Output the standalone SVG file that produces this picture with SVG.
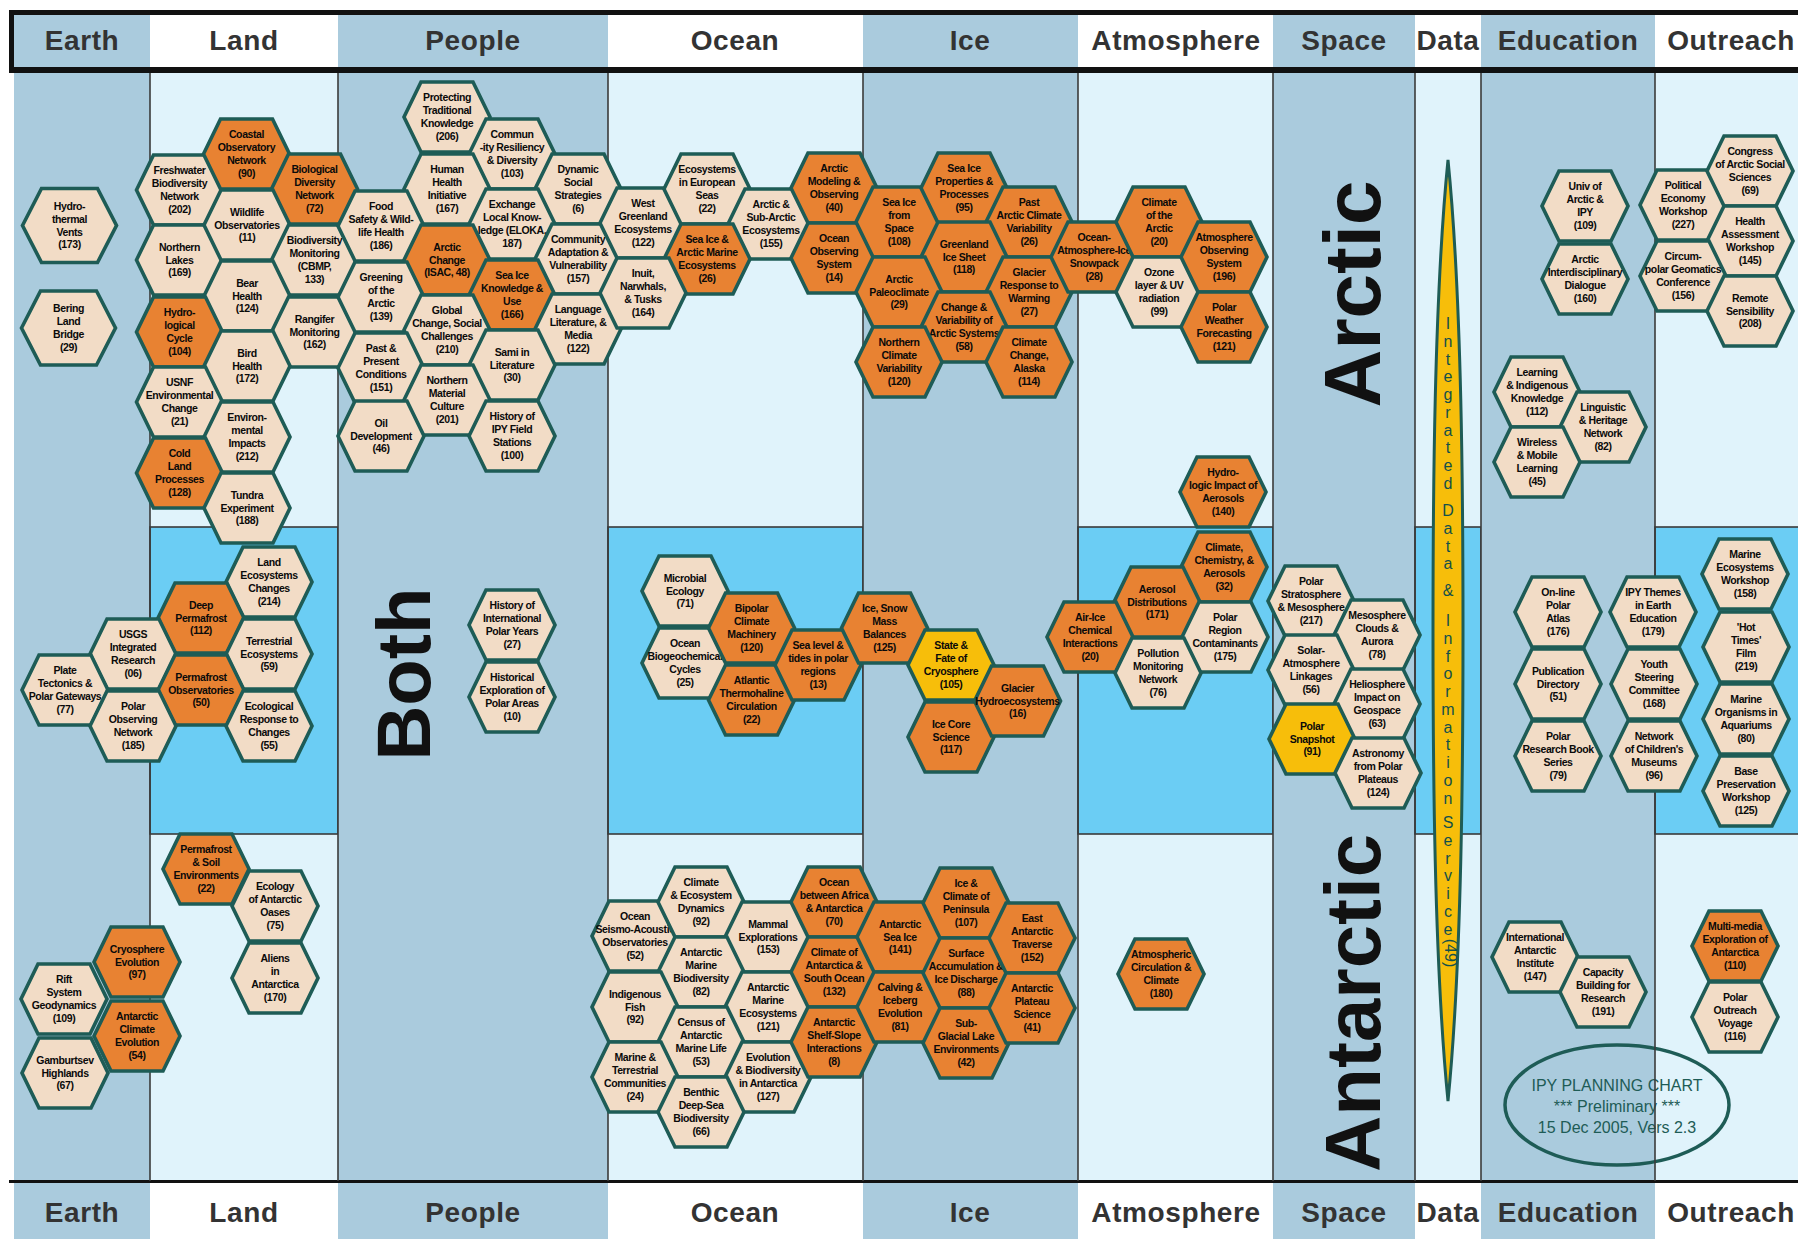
<svg xmlns="http://www.w3.org/2000/svg" width="1798" height="1239" viewBox="0 0 1798 1239">
<style>
.st{fill:#aacbdd}.lt{fill:#e0f3fb}.br{fill:#6bcdf4;stroke:#3a3a3a;stroke-width:1.6}.wh{fill:#ffffff}
.p{fill:#f2dcc6}.o{fill:#e88232}.y{fill:#f7be0a}
.hx{stroke:#1e5c56;stroke-width:3.6;stroke-linejoin:miter}
.t{font-family:"Liberation Sans",Arial,sans-serif;font-weight:bold;font-size:10.5px;letter-spacing:-0.4px;text-anchor:middle;fill:#0a0a0a}
.hd{font-family:"Liberation Sans",Arial,sans-serif;font-weight:bold;font-size:28px;letter-spacing:0.6px;text-anchor:middle;fill:#333333}
.big{font-family:"Liberation Sans",Arial,sans-serif;font-weight:bold;text-anchor:middle;fill:#111111}
.ds{font-family:"Liberation Sans",Arial,sans-serif;font-size:16px;text-anchor:middle;fill:#14504a}
.el{font-family:"Liberation Sans",Arial,sans-serif;font-size:16px;text-anchor:middle;fill:#1e5c56}
.sep{stroke:#3a3a3a;stroke-width:1.6}
</style>
<defs>
<polygon id="h" class="hx" points="-43,0 -26,-35 26,-35 43,0 26,35 -26,35"/>
<polygon id="hb" class="hx" points="-47,0 -28,-37 28,-37 47,0 28,37 -28,37"/>
</defs>
<rect x="0" y="0" width="1798" height="1239" fill="#ffffff"/>
<g id="background">
<rect class="st" x="14" y="73" width="136" height="1108"/>
<rect class="lt" x="150" y="73" width="188" height="1108"/>
<rect class="br" x="150" y="527" width="188" height="307"/>
<rect class="st" x="338" y="73" width="270" height="1108"/>
<rect class="lt" x="608" y="73" width="255" height="1108"/>
<rect class="br" x="608" y="527" width="255" height="307"/>
<rect class="st" x="863" y="73" width="215" height="1108"/>
<rect class="lt" x="1078" y="73" width="195" height="1108"/>
<rect class="br" x="1078" y="527" width="195" height="307"/>
<rect class="st" x="1273" y="73" width="142" height="1108"/>
<rect class="lt" x="1415" y="73" width="66" height="1108"/>
<rect class="br" x="1415" y="527" width="66" height="307"/>
<rect class="st" x="1481" y="73" width="174" height="1108"/>
<rect class="lt" x="1655" y="73" width="145" height="1108"/>
<rect class="br" x="1655" y="527" width="145" height="307"/>
</g>
<g id="header">
<rect class="st" x="14" y="15" width="136" height="52"/>
<rect class="wh" x="150" y="15" width="188" height="52"/>
<rect class="st" x="338" y="15" width="270" height="52"/>
<rect class="wh" x="608" y="15" width="255" height="52"/>
<rect class="st" x="863" y="15" width="215" height="52"/>
<rect class="wh" x="1078" y="15" width="195" height="52"/>
<rect class="st" x="1273" y="15" width="142" height="52"/>
<rect class="wh" x="1415" y="15" width="66" height="52"/>
<rect class="st" x="1481" y="15" width="174" height="52"/>
<rect class="wh" x="1655" y="15" width="145" height="52"/>
<rect x="9" y="10" width="1789" height="5" fill="#111"/>
<rect x="9" y="67" width="1789" height="6" fill="#111"/>
<rect x="9" y="10" width="5" height="63" fill="#111"/>
<text class="hd" x="82" y="50">Earth</text>
<text class="hd" x="244" y="50">Land</text>
<text class="hd" x="473" y="50">People</text>
<text class="hd" x="735" y="50">Ocean</text>
<text class="hd" x="970" y="50">Ice</text>
<text class="hd" x="1176" y="50">Atmosphere</text>
<text class="hd" x="1344" y="50">Space</text>
<text class="hd" x="1448" y="50">Data</text>
<text class="hd" x="1568" y="50">Education</text>
<text class="hd" x="1731" y="50">Outreach</text>
</g>
<g id="footer">
<rect class="st" x="14" y="1183" width="136" height="56"/>
<rect class="wh" x="150" y="1183" width="188" height="56"/>
<rect class="st" x="338" y="1183" width="270" height="56"/>
<rect class="wh" x="608" y="1183" width="255" height="56"/>
<rect class="st" x="863" y="1183" width="215" height="56"/>
<rect class="wh" x="1078" y="1183" width="195" height="56"/>
<rect class="st" x="1273" y="1183" width="142" height="56"/>
<rect class="wh" x="1415" y="1183" width="66" height="56"/>
<rect class="st" x="1481" y="1183" width="174" height="56"/>
<rect class="wh" x="1655" y="1183" width="145" height="56"/>
<rect x="9" y="1180" width="1789" height="3" fill="#111"/>
<text class="hd" x="82" y="1222">Earth</text>
<text class="hd" x="244" y="1222">Land</text>
<text class="hd" x="473" y="1222">People</text>
<text class="hd" x="735" y="1222">Ocean</text>
<text class="hd" x="970" y="1222">Ice</text>
<text class="hd" x="1176" y="1222">Atmosphere</text>
<text class="hd" x="1344" y="1222">Space</text>
<text class="hd" x="1448" y="1222">Data</text>
<text class="hd" x="1568" y="1222">Education</text>
<text class="hd" x="1731" y="1222">Outreach</text>
</g>
<g id="stamp">
<ellipse cx="1617" cy="1105" rx="112" ry="60" fill="none" stroke="#1e5c56" stroke-width="3.5"/>
<text class="el" x="1617" y="1091">IPY PLANNING CHART</text>
<text class="el" x="1617" y="1112">*** Preliminary ***</text>
<text class="el" x="1617" y="1133">15 Dec 2005, Vers 2.3</text>
</g>
<g id="separators">
<line class="sep" x1="150" y1="73" x2="150" y2="1181"/>
<line class="sep" x1="338" y1="73" x2="338" y2="1181"/>
<line class="sep" x1="608" y1="73" x2="608" y2="1181"/>
<line class="sep" x1="863" y1="73" x2="863" y2="1181"/>
<line class="sep" x1="1078" y1="73" x2="1078" y2="1181"/>
<line class="sep" x1="1273" y1="73" x2="1273" y2="1181"/>
<line class="sep" x1="1415" y1="73" x2="1415" y2="1181"/>
<line class="sep" x1="1481" y1="73" x2="1481" y2="1181"/>
<line class="sep" x1="1655" y1="73" x2="1655" y2="1181"/>
</g>
<g id="labels">
<text class="big" font-size="80" transform="translate(1380,294) rotate(-90)">Arctic</text>
<text class="big" font-size="78" transform="translate(1380,1003) rotate(-90)">Antarctic</text>
<text class="big" font-size="76" transform="translate(430,674) rotate(-90)">Both</text>
</g>
<g id="data-service">
<path d="M1448,160 C1462,300 1463,500 1463,630 C1463,760 1462,960 1448,1101 C1434,960 1433,760 1433,630 C1433,500 1434,300 1448,160 Z" fill="#f7be0a" stroke="#1e5c56" stroke-width="3"/>
<text class="ds"><tspan x="1448" y="329">I</tspan><tspan x="1448" y="347">n</tspan><tspan x="1448" y="365">t</tspan><tspan x="1448" y="382">e</tspan><tspan x="1448" y="400">g</tspan><tspan x="1448" y="418">r</tspan><tspan x="1448" y="436">a</tspan><tspan x="1448" y="453">t</tspan><tspan x="1448" y="471">e</tspan><tspan x="1448" y="489">d</tspan><tspan x="1448" y="516">D</tspan><tspan x="1448" y="534">a</tspan><tspan x="1448" y="552">t</tspan><tspan x="1448" y="569">a</tspan><tspan x="1448" y="596">&amp;</tspan><tspan x="1448" y="626">I</tspan><tspan x="1448" y="644">n</tspan><tspan x="1448" y="662">f</tspan><tspan x="1448" y="679">o</tspan><tspan x="1448" y="697">r</tspan><tspan x="1448" y="715">m</tspan><tspan x="1448" y="733">a</tspan><tspan x="1448" y="750">t</tspan><tspan x="1448" y="768">i</tspan><tspan x="1448" y="786">o</tspan><tspan x="1448" y="804">n</tspan><tspan x="1448" y="828">S</tspan><tspan x="1448" y="846">e</tspan><tspan x="1448" y="864">r</tspan><tspan x="1448" y="881">v</tspan><tspan x="1448" y="899">i</tspan><tspan x="1448" y="917">c</tspan><tspan x="1448" y="935">e</tspan></text>
<text class="ds" font-size="8" transform="translate(1445,953) rotate(90)">(49)</text>
</g>
<g id="connectors"/>
<g id="nodes">
<g id="n-hydrothermal"><use href="#hb" x="69.5" y="225.5" class="p"/><text class="t" transform="translate(69.5,225.5)"><tspan x="0" y="-15.6">Hydro-</tspan><tspan x="0" y="-2.8">thermal</tspan><tspan x="0" y="10">Vents</tspan><tspan x="0" y="22.8">(173)</tspan></text></g>
<g id="n-bering"><use href="#hb" x="68.5" y="328" class="p"/><text class="t" transform="translate(68.5,328)"><tspan x="0" y="-15.6">Bering</tspan><tspan x="0" y="-2.8">Land</tspan><tspan x="0" y="10">Bridge</tspan><tspan x="0" y="22.8">(29)</tspan></text></g>
<g id="n-freshwater"><use href="#h" x="179.5" y="190" class="p"/><text class="t" transform="translate(179.5,190)"><tspan x="0" y="-15.6">Freshwater</tspan><tspan x="0" y="-2.8">Biodiversity</tspan><tspan x="0" y="10">Network</tspan><tspan x="0" y="22.8">(202)</tspan></text></g>
<g id="n-coastal"><use href="#h" x="246.5" y="154" class="o"/><text class="t" transform="translate(246.5,154)"><tspan x="0" y="-15.6">Coastal</tspan><tspan x="0" y="-2.8">Observatory</tspan><tspan x="0" y="10">Network</tspan><tspan x="0" y="22.8">(90)</tspan></text></g>
<g id="n-biological"><use href="#h" x="314.5" y="189" class="o"/><text class="t" transform="translate(314.5,189)"><tspan x="0" y="-15.6">Biological</tspan><tspan x="0" y="-2.8">Diversity</tspan><tspan x="0" y="10">Network</tspan><tspan x="0" y="22.8">(72)</tspan></text></g>
<g id="n-northern-lakes"><use href="#h" x="179.5" y="260" class="p"/><text class="t" transform="translate(179.5,260)"><tspan x="0" y="-9.2">Northern</tspan><tspan x="0" y="3.6">Lakes</tspan><tspan x="0" y="16.4">(169)</tspan></text></g>
<g id="n-wildlife"><use href="#h" x="247" y="225" class="p"/><text class="t" transform="translate(247,225)"><tspan x="0" y="-9.2">Wildlife</tspan><tspan x="0" y="3.6">Observatories</tspan><tspan x="0" y="16.4">(11)</tspan></text></g>
<g id="n-cbmp"><use href="#h" x="314.5" y="260" class="p"/><text class="t" transform="translate(314.5,260)"><tspan x="0" y="-15.6">Biodiversity</tspan><tspan x="0" y="-2.8">Monitoring</tspan><tspan x="0" y="10">(CBMP,</tspan><tspan x="0" y="22.8">133)</tspan></text></g>
<g id="n-bear"><use href="#h" x="247" y="296" class="p"/><text class="t" transform="translate(247,296)"><tspan x="0" y="-9.2">Bear</tspan><tspan x="0" y="3.6">Health</tspan><tspan x="0" y="16.4">(124)</tspan></text></g>
<g id="n-hydrological"><use href="#h" x="179.5" y="332" class="o"/><text class="t" transform="translate(179.5,332)"><tspan x="0" y="-15.6">Hydro-</tspan><tspan x="0" y="-2.8">logical</tspan><tspan x="0" y="10">Cycle</tspan><tspan x="0" y="22.8">(104)</tspan></text></g>
<g id="n-rangifer"><use href="#h" x="314.5" y="332" class="p"/><text class="t" transform="translate(314.5,332)"><tspan x="0" y="-9.2">Rangifer</tspan><tspan x="0" y="3.6">Monitoring</tspan><tspan x="0" y="16.4">(162)</tspan></text></g>
<g id="n-bird"><use href="#h" x="247" y="366" class="p"/><text class="t" transform="translate(247,366)"><tspan x="0" y="-9.2">Bird</tspan><tspan x="0" y="3.6">Health</tspan><tspan x="0" y="16.4">(172)</tspan></text></g>
<g id="n-usnf"><use href="#h" x="179.5" y="402" class="p"/><text class="t" transform="translate(179.5,402)"><tspan x="0" y="-15.6">USNF</tspan><tspan x="0" y="-2.8">Environmental</tspan><tspan x="0" y="10">Change</tspan><tspan x="0" y="22.8">(21)</tspan></text></g>
<g id="n-environ"><use href="#h" x="247" y="437" class="p"/><text class="t" transform="translate(247,437)"><tspan x="0" y="-15.6">Environ-</tspan><tspan x="0" y="-2.8">mental</tspan><tspan x="0" y="10">Impacts</tspan><tspan x="0" y="22.8">(212)</tspan></text></g>
<g id="n-coldland"><use href="#h" x="179.5" y="473" class="o"/><text class="t" transform="translate(179.5,473)"><tspan x="0" y="-15.6">Cold</tspan><tspan x="0" y="-2.8">Land</tspan><tspan x="0" y="10">Processes</tspan><tspan x="0" y="22.8">(128)</tspan></text></g>
<g id="n-tundra"><use href="#h" x="247" y="508" class="p"/><text class="t" transform="translate(247,508)"><tspan x="0" y="-9.2">Tundra</tspan><tspan x="0" y="3.6">Experiment</tspan><tspan x="0" y="16.4">(188)</tspan></text></g>
<g id="n-protecting"><use href="#h" x="447" y="117" class="p"/><text class="t" transform="translate(447,117)"><tspan x="0" y="-15.6">Protecting</tspan><tspan x="0" y="-2.8">Traditional</tspan><tspan x="0" y="10">Knowledge</tspan><tspan x="0" y="22.8">(206)</tspan></text></g>
<g id="n-resiliency"><use href="#h" x="512" y="154" class="p"/><text class="t" transform="translate(512,154)"><tspan x="0" y="-15.6">Commun</tspan><tspan x="0" y="-2.8">-ity Resiliency</tspan><tspan x="0" y="10">&amp; Diversity</tspan><tspan x="0" y="22.8">(103)</tspan></text></g>
<g id="n-dynamic"><use href="#h" x="578" y="189" class="p"/><text class="t" transform="translate(578,189)"><tspan x="0" y="-15.6">Dynamic</tspan><tspan x="0" y="-2.8">Social</tspan><tspan x="0" y="10">Strategies</tspan><tspan x="0" y="22.8">(6)</tspan></text></g>
<g id="n-human-health"><use href="#h" x="447" y="189" class="p"/><text class="t" transform="translate(447,189)"><tspan x="0" y="-15.6">Human</tspan><tspan x="0" y="-2.8">Health</tspan><tspan x="0" y="10">Initiative</tspan><tspan x="0" y="22.8">(167)</tspan></text></g>
<g id="n-food"><use href="#h" x="381" y="226" class="p"/><text class="t" transform="translate(381,226)"><tspan x="0" y="-15.6">Food</tspan><tspan x="0" y="-2.8">Safety &amp; Wild-</tspan><tspan x="0" y="10">life Health</tspan><tspan x="0" y="22.8">(186)</tspan></text></g>
<g id="n-eloka"><use href="#h" x="512" y="224" class="p"/><text class="t" transform="translate(512,224)"><tspan x="0" y="-15.6">Exchange</tspan><tspan x="0" y="-2.8">Local Know-</tspan><tspan x="0" y="10">ledge (ELOKA,</tspan><tspan x="0" y="22.8">187)</tspan></text></g>
<g id="n-arctic-change"><use href="#h" x="447" y="260" class="o"/><text class="t" transform="translate(447,260)"><tspan x="0" y="-9.2">Arctic</tspan><tspan x="0" y="3.6">Change</tspan><tspan x="0" y="16.4">(ISAC, 48)</tspan></text></g>
<g id="n-adaptation"><use href="#h" x="578" y="259" class="p"/><text class="t" transform="translate(578,259)"><tspan x="0" y="-15.6">Community</tspan><tspan x="0" y="-2.8">Adaptation &amp;</tspan><tspan x="0" y="10">Vulnerability</tspan><tspan x="0" y="22.8">(157)</tspan></text></g>
<g id="n-greening"><use href="#h" x="381" y="297" class="p"/><text class="t" transform="translate(381,297)"><tspan x="0" y="-15.6">Greening</tspan><tspan x="0" y="-2.8">of the</tspan><tspan x="0" y="10">Arctic</tspan><tspan x="0" y="22.8">(139)</tspan></text></g>
<g id="n-seaice-knowledge"><use href="#h" x="512" y="295" class="o"/><text class="t" transform="translate(512,295)"><tspan x="0" y="-15.6">Sea Ice</tspan><tspan x="0" y="-2.8">Knowledge &amp;</tspan><tspan x="0" y="10">Use</tspan><tspan x="0" y="22.8">(166)</tspan></text></g>
<g id="n-global-change"><use href="#h" x="447" y="330" class="p"/><text class="t" transform="translate(447,330)"><tspan x="0" y="-15.6">Global</tspan><tspan x="0" y="-2.8">Change, Social</tspan><tspan x="0" y="10">Challenges</tspan><tspan x="0" y="22.8">(210)</tspan></text></g>
<g id="n-language"><use href="#h" x="578" y="329" class="p"/><text class="t" transform="translate(578,329)"><tspan x="0" y="-15.6">Language</tspan><tspan x="0" y="-2.8">Literature, &amp;</tspan><tspan x="0" y="10">Media</tspan><tspan x="0" y="22.8">(122)</tspan></text></g>
<g id="n-past-present"><use href="#h" x="381" y="368" class="p"/><text class="t" transform="translate(381,368)"><tspan x="0" y="-15.6">Past &amp;</tspan><tspan x="0" y="-2.8">Present</tspan><tspan x="0" y="10">Conditions</tspan><tspan x="0" y="22.8">(151)</tspan></text></g>
<g id="n-sami"><use href="#h" x="512" y="365" class="p"/><text class="t" transform="translate(512,365)"><tspan x="0" y="-9.2">Sami in</tspan><tspan x="0" y="3.6">Literature</tspan><tspan x="0" y="16.4">(30)</tspan></text></g>
<g id="n-material-culture"><use href="#h" x="447" y="400" class="p"/><text class="t" transform="translate(447,400)"><tspan x="0" y="-15.6">Northern</tspan><tspan x="0" y="-2.8">Material</tspan><tspan x="0" y="10">Culture</tspan><tspan x="0" y="22.8">(201)</tspan></text></g>
<g id="n-oil"><use href="#h" x="381" y="436" class="p"/><text class="t" transform="translate(381,436)"><tspan x="0" y="-9.2">Oil</tspan><tspan x="0" y="3.6">Development</tspan><tspan x="0" y="16.4">(46)</tspan></text></g>
<g id="n-field-stations"><use href="#h" x="512" y="436" class="p"/><text class="t" transform="translate(512,436)"><tspan x="0" y="-15.6">History of</tspan><tspan x="0" y="-2.8">IPY Field</tspan><tspan x="0" y="10">Stations</tspan><tspan x="0" y="22.8">(100)</tspan></text></g>
<g id="n-west-greenland"><use href="#h" x="643" y="223" class="p"/><text class="t" transform="translate(643,223)"><tspan x="0" y="-15.6">West</tspan><tspan x="0" y="-2.8">Greenland</tspan><tspan x="0" y="10">Ecosystems</tspan><tspan x="0" y="22.8">(122)</tspan></text></g>
<g id="n-european-seas"><use href="#h" x="707" y="189" class="p"/><text class="t" transform="translate(707,189)"><tspan x="0" y="-15.6">Ecosystems</tspan><tspan x="0" y="-2.8">in European</tspan><tspan x="0" y="10">Seas</tspan><tspan x="0" y="22.8">(22)</tspan></text></g>
<g id="n-subarctic"><use href="#h" x="771" y="224" class="p"/><text class="t" transform="translate(771,224)"><tspan x="0" y="-15.6">Arctic &amp;</tspan><tspan x="0" y="-2.8">Sub-Arctic</tspan><tspan x="0" y="10">Ecosystems</tspan><tspan x="0" y="22.8">(155)</tspan></text></g>
<g id="n-seaice-marine"><use href="#h" x="707" y="259" class="o"/><text class="t" transform="translate(707,259)"><tspan x="0" y="-15.6">Sea Ice &amp;</tspan><tspan x="0" y="-2.8">Arctic Marine</tspan><tspan x="0" y="10">Ecosystems</tspan><tspan x="0" y="22.8">(26)</tspan></text></g>
<g id="n-inuit"><use href="#h" x="643" y="293" class="p"/><text class="t" transform="translate(643,293)"><tspan x="0" y="-15.6">Inuit,</tspan><tspan x="0" y="-2.8">Narwhals,</tspan><tspan x="0" y="10">&amp; Tusks</tspan><tspan x="0" y="22.8">(164)</tspan></text></g>
<g id="n-modeling"><use href="#h" x="834" y="188" class="o"/><text class="t" transform="translate(834,188)"><tspan x="0" y="-15.6">Arctic</tspan><tspan x="0" y="-2.8">Modeling &amp;</tspan><tspan x="0" y="10">Observing</tspan><tspan x="0" y="22.8">(40)</tspan></text></g>
<g id="n-ocean-observing"><use href="#h" x="834" y="258" class="o"/><text class="t" transform="translate(834,258)"><tspan x="0" y="-15.6">Ocean</tspan><tspan x="0" y="-2.8">Observing</tspan><tspan x="0" y="10">System</tspan><tspan x="0" y="22.8">(14)</tspan></text></g>
<g id="n-seaice-space"><use href="#h" x="899" y="222" class="o"/><text class="t" transform="translate(899,222)"><tspan x="0" y="-15.6">Sea Ice</tspan><tspan x="0" y="-2.8">from</tspan><tspan x="0" y="10">Space</tspan><tspan x="0" y="22.8">(108)</tspan></text></g>
<g id="n-seaice-properties"><use href="#h" x="964" y="188" class="o"/><text class="t" transform="translate(964,188)"><tspan x="0" y="-15.6">Sea Ice</tspan><tspan x="0" y="-2.8">Properties &amp;</tspan><tspan x="0" y="10">Processes</tspan><tspan x="0" y="22.8">(95)</tspan></text></g>
<g id="n-past-climate"><use href="#h" x="1029" y="222" class="o"/><text class="t" transform="translate(1029,222)"><tspan x="0" y="-15.6">Past</tspan><tspan x="0" y="-2.8">Arctic Climate</tspan><tspan x="0" y="10">Variability</tspan><tspan x="0" y="22.8">(26)</tspan></text></g>
<g id="n-greenland-ice"><use href="#h" x="964" y="257" class="o"/><text class="t" transform="translate(964,257)"><tspan x="0" y="-9.2">Greenland</tspan><tspan x="0" y="3.6">Ice Sheet</tspan><tspan x="0" y="16.4">(118)</tspan></text></g>
<g id="n-paleoclimate"><use href="#h" x="899" y="292" class="o"/><text class="t" transform="translate(899,292)"><tspan x="0" y="-9.2">Arctic</tspan><tspan x="0" y="3.6">Paleoclimate</tspan><tspan x="0" y="16.4">(29)</tspan></text></g>
<g id="n-glacier-response"><use href="#h" x="1029" y="292" class="o"/><text class="t" transform="translate(1029,292)"><tspan x="0" y="-15.6">Glacier</tspan><tspan x="0" y="-2.8">Response to</tspan><tspan x="0" y="10">Warming</tspan><tspan x="0" y="22.8">(27)</tspan></text></g>
<g id="n-change-variability"><use href="#h" x="964" y="327" class="o"/><text class="t" transform="translate(964,327)"><tspan x="0" y="-15.6">Change &amp;</tspan><tspan x="0" y="-2.8">Variability of</tspan><tspan x="0" y="10">Arctic Systems</tspan><tspan x="0" y="22.8">(58)</tspan></text></g>
<g id="n-northern-climate"><use href="#h" x="899" y="362" class="o"/><text class="t" transform="translate(899,362)"><tspan x="0" y="-15.6">Northern</tspan><tspan x="0" y="-2.8">Climate</tspan><tspan x="0" y="10">Variability</tspan><tspan x="0" y="22.8">(120)</tspan></text></g>
<g id="n-alaska"><use href="#h" x="1029" y="362" class="o"/><text class="t" transform="translate(1029,362)"><tspan x="0" y="-15.6">Climate</tspan><tspan x="0" y="-2.8">Change,</tspan><tspan x="0" y="10">Alaska</tspan><tspan x="0" y="22.8">(114)</tspan></text></g>
<g id="n-snowpack"><use href="#h" x="1094" y="257" class="o"/><text class="t" transform="translate(1094,257)"><tspan x="0" y="-15.6">Ocean-</tspan><tspan x="0" y="-2.8">Atmosphere-Ice</tspan><tspan x="0" y="10">Snowpack</tspan><tspan x="0" y="22.8">(28)</tspan></text></g>
<g id="n-climate-arctic"><use href="#h" x="1159" y="222" class="o"/><text class="t" transform="translate(1159,222)"><tspan x="0" y="-15.6">Climate</tspan><tspan x="0" y="-2.8">of the</tspan><tspan x="0" y="10">Arctic</tspan><tspan x="0" y="22.8">(20)</tspan></text></g>
<g id="n-ozone"><use href="#h" x="1159" y="292" class="p"/><text class="t" transform="translate(1159,292)"><tspan x="0" y="-15.6">Ozone</tspan><tspan x="0" y="-2.8">layer &amp; UV</tspan><tspan x="0" y="10">radiation</tspan><tspan x="0" y="22.8">(99)</tspan></text></g>
<g id="n-atm-observing"><use href="#h" x="1224" y="257" class="o"/><text class="t" transform="translate(1224,257)"><tspan x="0" y="-15.6">Atmosphere</tspan><tspan x="0" y="-2.8">Observing</tspan><tspan x="0" y="10">System</tspan><tspan x="0" y="22.8">(196)</tspan></text></g>
<g id="n-weather"><use href="#h" x="1224" y="327" class="o"/><text class="t" transform="translate(1224,327)"><tspan x="0" y="-15.6">Polar</tspan><tspan x="0" y="-2.8">Weather</tspan><tspan x="0" y="10">Forecasting</tspan><tspan x="0" y="22.8">(121)</tspan></text></g>
<g id="n-hydrologic-aerosols"><use href="#h" x="1223" y="492" class="o"/><text class="t" transform="translate(1223,492)"><tspan x="0" y="-15.6">Hydro-</tspan><tspan x="0" y="-2.8">logic Impact of</tspan><tspan x="0" y="10">Aerosols</tspan><tspan x="0" y="22.8">(140)</tspan></text></g>
<g id="n-univ-arctic"><use href="#h" x="1585" y="206" class="p"/><text class="t" transform="translate(1585,206)"><tspan x="0" y="-15.6">Univ of</tspan><tspan x="0" y="-2.8">Arctic &amp;</tspan><tspan x="0" y="10">IPY</tspan><tspan x="0" y="22.8">(109)</tspan></text></g>
<g id="n-interdisciplinary"><use href="#h" x="1585" y="279" class="p"/><text class="t" transform="translate(1585,279)"><tspan x="0" y="-15.6">Arctic</tspan><tspan x="0" y="-2.8">Interdisciplinary</tspan><tspan x="0" y="10">Dialogue</tspan><tspan x="0" y="22.8">(160)</tspan></text></g>
<g id="n-learning"><use href="#h" x="1537" y="392" class="p"/><text class="t" transform="translate(1537,392)"><tspan x="0" y="-15.6">Learning</tspan><tspan x="0" y="-2.8">&amp; Indigenous</tspan><tspan x="0" y="10">Knowledge</tspan><tspan x="0" y="22.8">(112)</tspan></text></g>
<g id="n-linguistic"><use href="#h" x="1603" y="427" class="p"/><text class="t" transform="translate(1603,427)"><tspan x="0" y="-15.6">Linguistic</tspan><tspan x="0" y="-2.8">&amp; Heritage</tspan><tspan x="0" y="10">Network</tspan><tspan x="0" y="22.8">(82)</tspan></text></g>
<g id="n-wireless"><use href="#h" x="1537" y="462" class="p"/><text class="t" transform="translate(1537,462)"><tspan x="0" y="-15.6">Wireless</tspan><tspan x="0" y="-2.8">&amp; Mobile</tspan><tspan x="0" y="10">Learning</tspan><tspan x="0" y="22.8">(45)</tspan></text></g>
<g id="n-political"><use href="#h" x="1683" y="205" class="p"/><text class="t" transform="translate(1683,205)"><tspan x="0" y="-15.6">Political</tspan><tspan x="0" y="-2.8">Economy</tspan><tspan x="0" y="10">Workshop</tspan><tspan x="0" y="22.8">(227)</tspan></text></g>
<g id="n-congress"><use href="#h" x="1750" y="171" class="p"/><text class="t" transform="translate(1750,171)"><tspan x="0" y="-15.6">Congress</tspan><tspan x="0" y="-2.8">of Arctic Social</tspan><tspan x="0" y="10">Sciences</tspan><tspan x="0" y="22.8">(69)</tspan></text></g>
<g id="n-health-assessment"><use href="#h" x="1750" y="241" class="p"/><text class="t" transform="translate(1750,241)"><tspan x="0" y="-15.6">Health</tspan><tspan x="0" y="-2.8">Assessment</tspan><tspan x="0" y="10">Workshop</tspan><tspan x="0" y="22.8">(145)</tspan></text></g>
<g id="n-geomatics"><use href="#h" x="1683" y="276" class="p"/><text class="t" transform="translate(1683,276)"><tspan x="0" y="-15.6">Circum-</tspan><tspan x="0" y="-2.8">polar Geomatics</tspan><tspan x="0" y="10">Conference</tspan><tspan x="0" y="22.8">(156)</tspan></text></g>
<g id="n-remote"><use href="#h" x="1750" y="311" class="p"/><text class="t" transform="translate(1750,311)"><tspan x="0" y="-9.2">Remote</tspan><tspan x="0" y="3.6">Sensibility</tspan><tspan x="0" y="16.4">(208)</tspan></text></g>
<g id="n-land-ecosystems"><use href="#h" x="269" y="582" class="p"/><text class="t" transform="translate(269,582)"><tspan x="0" y="-15.6">Land</tspan><tspan x="0" y="-2.8">Ecosystems</tspan><tspan x="0" y="10">Changes</tspan><tspan x="0" y="22.8">(214)</tspan></text></g>
<g id="n-deep-permafrost"><use href="#h" x="201" y="618" class="o"/><text class="t" transform="translate(201,618)"><tspan x="0" y="-9.2">Deep</tspan><tspan x="0" y="3.6">Permafrost</tspan><tspan x="0" y="16.4">(112)</tspan></text></g>
<g id="n-usgs"><use href="#h" x="133" y="654" class="p"/><text class="t" transform="translate(133,654)"><tspan x="0" y="-15.6">USGS</tspan><tspan x="0" y="-2.8">Integrated</tspan><tspan x="0" y="10">Research</tspan><tspan x="0" y="22.8">(06)</tspan></text></g>
<g id="n-terrestrial"><use href="#h" x="269" y="654" class="p"/><text class="t" transform="translate(269,654)"><tspan x="0" y="-9.2">Terrestrial</tspan><tspan x="0" y="3.6">Ecosystems</tspan><tspan x="0" y="16.4">(59)</tspan></text></g>
<g id="n-permafrost-obs"><use href="#h" x="201" y="690" class="o"/><text class="t" transform="translate(201,690)"><tspan x="0" y="-9.2">Permafrost</tspan><tspan x="0" y="3.6">Observatories</tspan><tspan x="0" y="16.4">(50)</tspan></text></g>
<g id="n-plate-tectonics"><use href="#h" x="65" y="690" class="p"/><text class="t" transform="translate(65,690)"><tspan x="0" y="-15.6">Plate</tspan><tspan x="0" y="-2.8">Tectonics &amp;</tspan><tspan x="0" y="10">Polar Gateways</tspan><tspan x="0" y="22.8">(77)</tspan></text></g>
<g id="n-polar-observing"><use href="#h" x="133" y="726" class="p"/><text class="t" transform="translate(133,726)"><tspan x="0" y="-15.6">Polar</tspan><tspan x="0" y="-2.8">Observing</tspan><tspan x="0" y="10">Network</tspan><tspan x="0" y="22.8">(185)</tspan></text></g>
<g id="n-ecological-response"><use href="#h" x="269" y="726" class="p"/><text class="t" transform="translate(269,726)"><tspan x="0" y="-15.6">Ecological</tspan><tspan x="0" y="-2.8">Response to</tspan><tspan x="0" y="10">Changes</tspan><tspan x="0" y="22.8">(55)</tspan></text></g>
<g id="n-history-ipy"><use href="#h" x="512" y="625" class="p"/><text class="t" transform="translate(512,625)"><tspan x="0" y="-15.6">History of</tspan><tspan x="0" y="-2.8">International</tspan><tspan x="0" y="10">Polar Years</tspan><tspan x="0" y="22.8">(27)</tspan></text></g>
<g id="n-historical-exploration"><use href="#h" x="512" y="697" class="p"/><text class="t" transform="translate(512,697)"><tspan x="0" y="-15.6">Historical</tspan><tspan x="0" y="-2.8">Exploration of</tspan><tspan x="0" y="10">Polar Areas</tspan><tspan x="0" y="22.8">(10)</tspan></text></g>
<g id="n-microbial"><use href="#h" x="685" y="591" class="p"/><text class="t" transform="translate(685,591)"><tspan x="0" y="-9.2">Microbial</tspan><tspan x="0" y="3.6">Ecology</tspan><tspan x="0" y="16.4">(71)</tspan></text></g>
<g id="n-biogeochemical"><use href="#h" x="685" y="663" class="p"/><text class="t" transform="translate(685,663)"><tspan x="0" y="-15.6">Ocean</tspan><tspan x="0" y="-2.8">Biogeochemical</tspan><tspan x="0" y="10">Cycles</tspan><tspan x="0" y="22.8">(25)</tspan></text></g>
<g id="n-bipolar"><use href="#h" x="751.5" y="628" class="o"/><text class="t" transform="translate(751.5,628)"><tspan x="0" y="-15.6">Bipolar</tspan><tspan x="0" y="-2.8">Climate</tspan><tspan x="0" y="10">Machinery</tspan><tspan x="0" y="22.8">(120)</tspan></text></g>
<g id="n-thermohaline"><use href="#h" x="751.5" y="700" class="o"/><text class="t" transform="translate(751.5,700)"><tspan x="0" y="-15.6">Atlantic</tspan><tspan x="0" y="-2.8">Thermohaline</tspan><tspan x="0" y="10">Circulation</tspan><tspan x="0" y="22.8">(22)</tspan></text></g>
<g id="n-sea-level"><use href="#h" x="818" y="665" class="o"/><text class="t" transform="translate(818,665)"><tspan x="0" y="-15.6">Sea level &amp;</tspan><tspan x="0" y="-2.8">tides in polar</tspan><tspan x="0" y="10">regions</tspan><tspan x="0" y="22.8">(13)</tspan></text></g>
<g id="n-mass-balances"><use href="#h" x="884.5" y="628" class="o"/><text class="t" transform="translate(884.5,628)"><tspan x="0" y="-15.6">Ice, Snow</tspan><tspan x="0" y="-2.8">Mass</tspan><tspan x="0" y="10">Balances</tspan><tspan x="0" y="22.8">(125)</tspan></text></g>
<g id="n-state-fate"><use href="#h" x="951" y="665" class="y"/><text class="t" transform="translate(951,665)"><tspan x="0" y="-15.6">State &amp;</tspan><tspan x="0" y="-2.8">Fate of</tspan><tspan x="0" y="10">Cryosphere</tspan><tspan x="0" y="22.8">(105)</tspan></text></g>
<g id="n-ice-core"><use href="#h" x="951" y="737" class="o"/><text class="t" transform="translate(951,737)"><tspan x="0" y="-9.2">Ice Core</tspan><tspan x="0" y="3.6">Science</tspan><tspan x="0" y="16.4">(117)</tspan></text></g>
<g id="n-glacier-hydro"><use href="#h" x="1017.5" y="701" class="o"/><text class="t" transform="translate(1017.5,701)"><tspan x="0" y="-9.2">Glacier</tspan><tspan x="0" y="3.6">Hydroecosystems</tspan><tspan x="0" y="16.4">(16)</tspan></text></g>
<g id="n-climate-chemistry"><use href="#h" x="1224" y="567" class="o"/><text class="t" transform="translate(1224,567)"><tspan x="0" y="-15.6">Climate,</tspan><tspan x="0" y="-2.8">Chemistry, &amp;</tspan><tspan x="0" y="10">Aerosols</tspan><tspan x="0" y="22.8">(32)</tspan></text></g>
<g id="n-aerosol-dist"><use href="#h" x="1157" y="602" class="o"/><text class="t" transform="translate(1157,602)"><tspan x="0" y="-9.2">Aerosol</tspan><tspan x="0" y="3.6">Distributions</tspan><tspan x="0" y="16.4">(171)</tspan></text></g>
<g id="n-contaminants"><use href="#h" x="1225" y="637" class="p"/><text class="t" transform="translate(1225,637)"><tspan x="0" y="-15.6">Polar</tspan><tspan x="0" y="-2.8">Region</tspan><tspan x="0" y="10">Contaminants</tspan><tspan x="0" y="22.8">(175)</tspan></text></g>
<g id="n-air-ice"><use href="#h" x="1090" y="637" class="o"/><text class="t" transform="translate(1090,637)"><tspan x="0" y="-15.6">Air-Ice</tspan><tspan x="0" y="-2.8">Chemical</tspan><tspan x="0" y="10">Interactions</tspan><tspan x="0" y="22.8">(20)</tspan></text></g>
<g id="n-pollution"><use href="#h" x="1158" y="673" class="p"/><text class="t" transform="translate(1158,673)"><tspan x="0" y="-15.6">Pollution</tspan><tspan x="0" y="-2.8">Monitoring</tspan><tspan x="0" y="10">Network</tspan><tspan x="0" y="22.8">(76)</tspan></text></g>
<g id="n-stratosphere"><use href="#h" x="1311" y="601" class="p"/><text class="t" transform="translate(1311,601)"><tspan x="0" y="-15.6">Polar</tspan><tspan x="0" y="-2.8">Stratosphere</tspan><tspan x="0" y="10">&amp; Mesosphere</tspan><tspan x="0" y="22.8">(217)</tspan></text></g>
<g id="n-mesosphere-clouds"><use href="#h" x="1377" y="635" class="p"/><text class="t" transform="translate(1377,635)"><tspan x="0" y="-15.6">Mesosphere</tspan><tspan x="0" y="-2.8">Clouds &amp;</tspan><tspan x="0" y="10">Aurora</tspan><tspan x="0" y="22.8">(78)</tspan></text></g>
<g id="n-solar-atmosphere"><use href="#h" x="1311" y="670" class="p"/><text class="t" transform="translate(1311,670)"><tspan x="0" y="-15.6">Solar-</tspan><tspan x="0" y="-2.8">Atmosphere</tspan><tspan x="0" y="10">Linkages</tspan><tspan x="0" y="22.8">(56)</tspan></text></g>
<g id="n-heliosphere"><use href="#h" x="1377" y="704" class="p"/><text class="t" transform="translate(1377,704)"><tspan x="0" y="-15.6">Heliosphere</tspan><tspan x="0" y="-2.8">Impact on</tspan><tspan x="0" y="10">Geospace</tspan><tspan x="0" y="22.8">(63)</tspan></text></g>
<g id="n-polar-snapshot"><use href="#h" x="1312" y="739" class="y"/><text class="t" transform="translate(1312,739)"><tspan x="0" y="-9.2">Polar</tspan><tspan x="0" y="3.6">Snapshot</tspan><tspan x="0" y="16.4">(91)</tspan></text></g>
<g id="n-astronomy"><use href="#h" x="1378" y="773" class="p"/><text class="t" transform="translate(1378,773)"><tspan x="0" y="-15.6">Astronomy</tspan><tspan x="0" y="-2.8">from Polar</tspan><tspan x="0" y="10">Plateaus</tspan><tspan x="0" y="22.8">(124)</tspan></text></g>
<g id="n-atlas"><use href="#h" x="1558" y="612" class="p"/><text class="t" transform="translate(1558,612)"><tspan x="0" y="-15.6">On-line</tspan><tspan x="0" y="-2.8">Polar</tspan><tspan x="0" y="10">Atlas</tspan><tspan x="0" y="22.8">(176)</tspan></text></g>
<g id="n-publication"><use href="#h" x="1558" y="684" class="p"/><text class="t" transform="translate(1558,684)"><tspan x="0" y="-9.2">Publication</tspan><tspan x="0" y="3.6">Directory</tspan><tspan x="0" y="16.4">(51)</tspan></text></g>
<g id="n-book-series"><use href="#h" x="1558" y="756" class="p"/><text class="t" transform="translate(1558,756)"><tspan x="0" y="-15.6">Polar</tspan><tspan x="0" y="-2.8">Research Book</tspan><tspan x="0" y="10">Series</tspan><tspan x="0" y="22.8">(79)</tspan></text></g>
<g id="n-ipy-themes"><use href="#h" x="1653" y="612" class="p"/><text class="t" transform="translate(1653,612)"><tspan x="0" y="-15.6">IPY Themes</tspan><tspan x="0" y="-2.8">in Earth</tspan><tspan x="0" y="10">Education</tspan><tspan x="0" y="22.8">(179)</tspan></text></g>
<g id="n-youth"><use href="#h" x="1654" y="684" class="p"/><text class="t" transform="translate(1654,684)"><tspan x="0" y="-15.6">Youth</tspan><tspan x="0" y="-2.8">Steering</tspan><tspan x="0" y="10">Committee</tspan><tspan x="0" y="22.8">(168)</tspan></text></g>
<g id="n-museums"><use href="#h" x="1654" y="756" class="p"/><text class="t" transform="translate(1654,756)"><tspan x="0" y="-15.6">Network</tspan><tspan x="0" y="-2.8">of Children's</tspan><tspan x="0" y="10">Museums</tspan><tspan x="0" y="22.8">(96)</tspan></text></g>
<g id="n-marine-eco-workshop"><use href="#h" x="1745" y="574" class="p"/><text class="t" transform="translate(1745,574)"><tspan x="0" y="-15.6">Marine</tspan><tspan x="0" y="-2.8">Ecosystems</tspan><tspan x="0" y="10">Workshop</tspan><tspan x="0" y="22.8">(158)</tspan></text></g>
<g id="n-hot-times"><use href="#h" x="1746" y="647" class="p"/><text class="t" transform="translate(1746,647)"><tspan x="0" y="-15.6">'Hot</tspan><tspan x="0" y="-2.8">Times'</tspan><tspan x="0" y="10">Film</tspan><tspan x="0" y="22.8">(219)</tspan></text></g>
<g id="n-aquariums"><use href="#h" x="1746" y="719" class="p"/><text class="t" transform="translate(1746,719)"><tspan x="0" y="-15.6">Marine</tspan><tspan x="0" y="-2.8">Organisms in</tspan><tspan x="0" y="10">Aquariums</tspan><tspan x="0" y="22.8">(80)</tspan></text></g>
<g id="n-base-preservation"><use href="#h" x="1746" y="791" class="p"/><text class="t" transform="translate(1746,791)"><tspan x="0" y="-15.6">Base</tspan><tspan x="0" y="-2.8">Preservation</tspan><tspan x="0" y="10">Workshop</tspan><tspan x="0" y="22.8">(125)</tspan></text></g>
<g id="n-permafrost-soil"><use href="#h" x="206" y="869" class="o"/><text class="t" transform="translate(206,869)"><tspan x="0" y="-15.6">Permafrost</tspan><tspan x="0" y="-2.8">&amp; Soil</tspan><tspan x="0" y="10">Environments</tspan><tspan x="0" y="22.8">(22)</tspan></text></g>
<g id="n-oases"><use href="#h" x="275" y="906" class="p"/><text class="t" transform="translate(275,906)"><tspan x="0" y="-15.6">Ecology</tspan><tspan x="0" y="-2.8">of Antarctic</tspan><tspan x="0" y="10">Oases</tspan><tspan x="0" y="22.8">(75)</tspan></text></g>
<g id="n-aliens"><use href="#h" x="275" y="978" class="p"/><text class="t" transform="translate(275,978)"><tspan x="0" y="-15.6">Aliens</tspan><tspan x="0" y="-2.8">in</tspan><tspan x="0" y="10">Antarctica</tspan><tspan x="0" y="22.8">(170)</tspan></text></g>
<g id="n-cryosphere-evolution"><use href="#h" x="137" y="962" class="o"/><text class="t" transform="translate(137,962)"><tspan x="0" y="-9.2">Cryosphere</tspan><tspan x="0" y="3.6">Evolution</tspan><tspan x="0" y="16.4">(97)</tspan></text></g>
<g id="n-rift"><use href="#h" x="64" y="999" class="p"/><text class="t" transform="translate(64,999)"><tspan x="0" y="-15.6">Rift</tspan><tspan x="0" y="-2.8">System</tspan><tspan x="0" y="10">Geodynamics</tspan><tspan x="0" y="22.8">(109)</tspan></text></g>
<g id="n-antarctic-climate-evolution"><use href="#h" x="137" y="1036" class="o"/><text class="t" transform="translate(137,1036)"><tspan x="0" y="-15.6">Antarctic</tspan><tspan x="0" y="-2.8">Climate</tspan><tspan x="0" y="10">Evolution</tspan><tspan x="0" y="22.8">(54)</tspan></text></g>
<g id="n-gamburtsev"><use href="#h" x="65" y="1073" class="p"/><text class="t" transform="translate(65,1073)"><tspan x="0" y="-9.2">Gamburtsev</tspan><tspan x="0" y="3.6">Highlands</tspan><tspan x="0" y="16.4">(67)</tspan></text></g>
<g id="n-seismo"><use href="#h" x="635" y="936" class="p"/><text class="t" transform="translate(635,936)"><tspan x="0" y="-15.6">Ocean</tspan><tspan x="0" y="-2.8">Seismo-Acoustic</tspan><tspan x="0" y="10">Observatories</tspan><tspan x="0" y="22.8">(52)</tspan></text></g>
<g id="n-ecosystem-dynamics"><use href="#h" x="701" y="902" class="p"/><text class="t" transform="translate(701,902)"><tspan x="0" y="-15.6">Climate</tspan><tspan x="0" y="-2.8">&amp; Ecosystem</tspan><tspan x="0" y="10">Dynamics</tspan><tspan x="0" y="22.8">(92)</tspan></text></g>
<g id="n-mammal"><use href="#h" x="768" y="937" class="p"/><text class="t" transform="translate(768,937)"><tspan x="0" y="-9.2">Mammal</tspan><tspan x="0" y="3.6">Explorations</tspan><tspan x="0" y="16.4">(153)</tspan></text></g>
<g id="n-marine-biodiversity"><use href="#h" x="701" y="972" class="p"/><text class="t" transform="translate(701,972)"><tspan x="0" y="-15.6">Antarctic</tspan><tspan x="0" y="-2.8">Marine</tspan><tspan x="0" y="10">Biodiversity</tspan><tspan x="0" y="22.8">(82)</tspan></text></g>
<g id="n-indigenous-fish"><use href="#h" x="635" y="1007" class="p"/><text class="t" transform="translate(635,1007)"><tspan x="0" y="-9.2">Indigenous</tspan><tspan x="0" y="3.6">Fish</tspan><tspan x="0" y="16.4">(92)</tspan></text></g>
<g id="n-marine-ecosystems"><use href="#h" x="768" y="1007" class="p"/><text class="t" transform="translate(768,1007)"><tspan x="0" y="-15.6">Antarctic</tspan><tspan x="0" y="-2.8">Marine</tspan><tspan x="0" y="10">Ecosystems</tspan><tspan x="0" y="22.8">(121)</tspan></text></g>
<g id="n-census"><use href="#h" x="701" y="1042" class="p"/><text class="t" transform="translate(701,1042)"><tspan x="0" y="-15.6">Census of</tspan><tspan x="0" y="-2.8">Antarctic</tspan><tspan x="0" y="10">Marine Life</tspan><tspan x="0" y="22.8">(53)</tspan></text></g>
<g id="n-terrestrial-communities"><use href="#h" x="635" y="1077" class="p"/><text class="t" transform="translate(635,1077)"><tspan x="0" y="-15.6">Marine &amp;</tspan><tspan x="0" y="-2.8">Terrestrial</tspan><tspan x="0" y="10">Communities</tspan><tspan x="0" y="22.8">(24)</tspan></text></g>
<g id="n-evolution-biodiversity"><use href="#h" x="768" y="1077" class="p"/><text class="t" transform="translate(768,1077)"><tspan x="0" y="-15.6">Evolution</tspan><tspan x="0" y="-2.8">&amp; Biodiversity</tspan><tspan x="0" y="10">in Antarctica</tspan><tspan x="0" y="22.8">(127)</tspan></text></g>
<g id="n-benthic"><use href="#h" x="701" y="1112" class="p"/><text class="t" transform="translate(701,1112)"><tspan x="0" y="-15.6">Benthic</tspan><tspan x="0" y="-2.8">Deep-Sea</tspan><tspan x="0" y="10">Biodiversity</tspan><tspan x="0" y="22.8">(66)</tspan></text></g>
<g id="n-africa-antarctica"><use href="#h" x="834" y="902" class="o"/><text class="t" transform="translate(834,902)"><tspan x="0" y="-15.6">Ocean</tspan><tspan x="0" y="-2.8">between Africa</tspan><tspan x="0" y="10">&amp; Antarctica</tspan><tspan x="0" y="22.8">(70)</tspan></text></g>
<g id="n-south-ocean"><use href="#h" x="834" y="972" class="o"/><text class="t" transform="translate(834,972)"><tspan x="0" y="-15.6">Climate of</tspan><tspan x="0" y="-2.8">Antarctica &amp;</tspan><tspan x="0" y="10">South Ocean</tspan><tspan x="0" y="22.8">(132)</tspan></text></g>
<g id="n-shelf-slope"><use href="#h" x="834" y="1042" class="o"/><text class="t" transform="translate(834,1042)"><tspan x="0" y="-15.6">Antarctic</tspan><tspan x="0" y="-2.8">Shelf-Slope</tspan><tspan x="0" y="10">Interactions</tspan><tspan x="0" y="22.8">(8)</tspan></text></g>
<g id="n-antarctic-seaice"><use href="#h" x="900" y="937" class="o"/><text class="t" transform="translate(900,937)"><tspan x="0" y="-9.2">Antarctic</tspan><tspan x="0" y="3.6">Sea Ice</tspan><tspan x="0" y="16.4">(141)</tspan></text></g>
<g id="n-calving"><use href="#h" x="900" y="1007" class="o"/><text class="t" transform="translate(900,1007)"><tspan x="0" y="-15.6">Calving &amp;</tspan><tspan x="0" y="-2.8">Iceberg</tspan><tspan x="0" y="10">Evolution</tspan><tspan x="0" y="22.8">(81)</tspan></text></g>
<g id="n-peninsula"><use href="#h" x="966" y="903" class="o"/><text class="t" transform="translate(966,903)"><tspan x="0" y="-15.6">Ice &amp;</tspan><tspan x="0" y="-2.8">Climate of</tspan><tspan x="0" y="10">Peninsula</tspan><tspan x="0" y="22.8">(107)</tspan></text></g>
<g id="n-accumulation"><use href="#h" x="966" y="973" class="o"/><text class="t" transform="translate(966,973)"><tspan x="0" y="-15.6">Surface</tspan><tspan x="0" y="-2.8">Accumulation &amp;</tspan><tspan x="0" y="10">Ice Discharge</tspan><tspan x="0" y="22.8">(88)</tspan></text></g>
<g id="n-subglacial"><use href="#h" x="966" y="1043" class="o"/><text class="t" transform="translate(966,1043)"><tspan x="0" y="-15.6">Sub-</tspan><tspan x="0" y="-2.8">Glacial Lake</tspan><tspan x="0" y="10">Environments</tspan><tspan x="0" y="22.8">(42)</tspan></text></g>
<g id="n-east-traverse"><use href="#h" x="1032" y="938" class="o"/><text class="t" transform="translate(1032,938)"><tspan x="0" y="-15.6">East</tspan><tspan x="0" y="-2.8">Antarctic</tspan><tspan x="0" y="10">Traverse</tspan><tspan x="0" y="22.8">(152)</tspan></text></g>
<g id="n-plateau-science"><use href="#h" x="1032" y="1008" class="o"/><text class="t" transform="translate(1032,1008)"><tspan x="0" y="-15.6">Antarctic</tspan><tspan x="0" y="-2.8">Plateau</tspan><tspan x="0" y="10">Science</tspan><tspan x="0" y="22.8">(41)</tspan></text></g>
<g id="n-atm-circulation"><use href="#h" x="1161" y="974" class="o"/><text class="t" transform="translate(1161,974)"><tspan x="0" y="-15.6">Atmospheric</tspan><tspan x="0" y="-2.8">Circulation &amp;</tspan><tspan x="0" y="10">Climate</tspan><tspan x="0" y="22.8">(180)</tspan></text></g>
<g id="n-intl-institute"><use href="#h" x="1535" y="957" class="p"/><text class="t" transform="translate(1535,957)"><tspan x="0" y="-15.6">International</tspan><tspan x="0" y="-2.8">Antarctic</tspan><tspan x="0" y="10">Institute</tspan><tspan x="0" y="22.8">(147)</tspan></text></g>
<g id="n-capacity"><use href="#h" x="1603" y="992" class="p"/><text class="t" transform="translate(1603,992)"><tspan x="0" y="-15.6">Capacity</tspan><tspan x="0" y="-2.8">Building for</tspan><tspan x="0" y="10">Research</tspan><tspan x="0" y="22.8">(191)</tspan></text></g>
<g id="n-multimedia"><use href="#h" x="1735" y="946" class="o"/><text class="t" transform="translate(1735,946)"><tspan x="0" y="-15.6">Multi-media</tspan><tspan x="0" y="-2.8">Exploration of</tspan><tspan x="0" y="10">Antarctica</tspan><tspan x="0" y="22.8">(110)</tspan></text></g>
<g id="n-outreach-voyage"><use href="#h" x="1735" y="1017" class="p"/><text class="t" transform="translate(1735,1017)"><tspan x="0" y="-15.6">Polar</tspan><tspan x="0" y="-2.8">Outreach</tspan><tspan x="0" y="10">Voyage</tspan><tspan x="0" y="22.8">(116)</tspan></text></g>
</g>
</svg>
